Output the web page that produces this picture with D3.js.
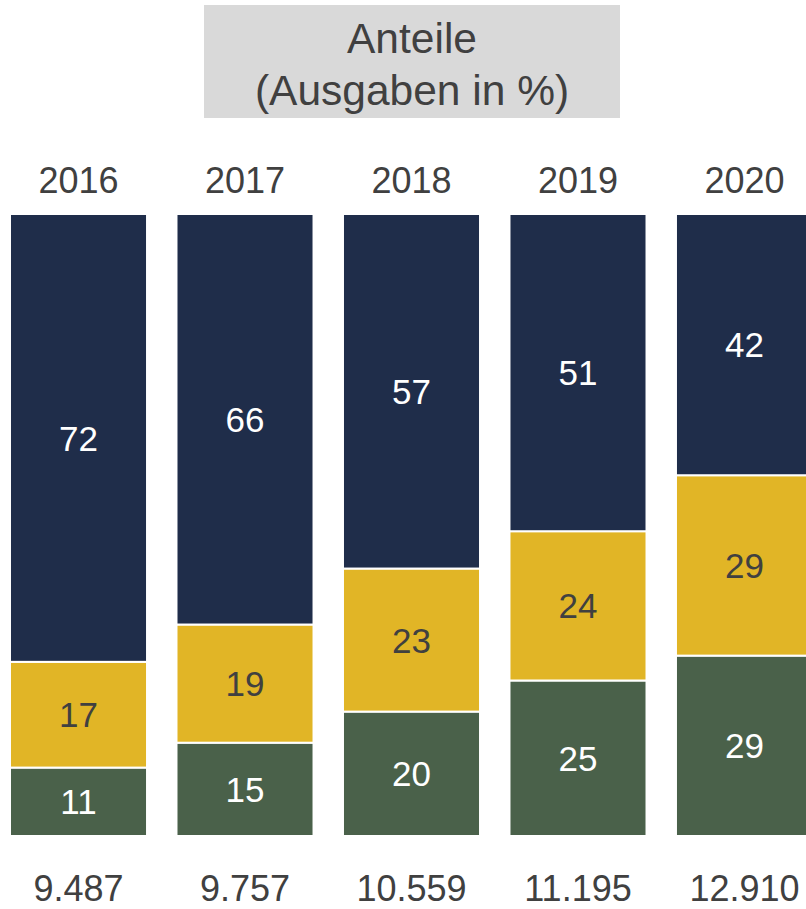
<!DOCTYPE html>
<html>
<head>
<meta charset="utf-8">
<script src="https://cdn.jsdelivr.net/npm/d3@7"></script>
<style>
  body { margin: 0; background: #fff; }
  text { font-family: "Liberation Sans", Arial, sans-serif; }
</style>
</head>
<body>
<div id="chart"></div>
<script>
// data
var years = ["2016", "2017", "2018", "2019", "2020"];
var gruen = [11, 15, 20, 25, 29];
var gelb = [17, 19, 23, 24, 29];
var blau = [72, 66, 57, 51, 42];
var totals = ["9.487", "9.757", "10.559", "11.195", "12.910"];
var titleLines = ["Anteile", "(Ausgaben in %)"];

var colors = {gruen: "#4a614a", gelb: "#e1b526", blau: "#1f2d4a"};
var labelColors = {gruen: "#ffffff", gelb: "#404040", blau: "#ffffff"};

var width = 806, height = 909;

var svg = d3.select("#chart").append("svg")
    .attr("width", width)
    .attr("height", height);

// title box
svg.append("rect")
    .attr("x", 204).attr("y", 5)
    .attr("width", 416).attr("height", 113)
    .attr("fill", "#d9d9d9");

svg.selectAll("text.title")
    .data(titleLines)
  .enter().append("text")
    .attr("class", "title")
    .attr("x", 412)
    .attr("y", function(d, i) { return 53 + i * 52; })
    .attr("text-anchor", "middle")
    .attr("font-size", 42.5)
    .attr("fill", "#404040")
    .text(function(d) { return d; });

var x = d3.scaleBand()
    .domain(years)
    .range([10, 813])
    .paddingInner(0.177)
    .paddingOuter(0);

var y = d3.scaleLinear()
    .domain([0, 100])
    .range([836, 214]);

// stacked rows
var rows = years.map(function(yr, i) {
  return {year: yr, gruen: gruen[i], gelb: gelb[i], blau: blau[i]};
});
var keys = ["gruen", "gelb", "blau"];
var stack = d3.stack().keys(keys)(rows);

var layer = svg.selectAll("g.layer")
    .data(stack)
  .enter().append("g")
    .attr("class", "layer");

layer.selectAll("rect")
    .data(function(s) { return s.map(function(d) { return {key: s.key, d: d}; }); })
  .enter().append("rect")
    .attr("x", function(o) { return x(o.d.data.year); })
    .attr("width", x.bandwidth())
    .attr("y", function(o) { return y(o.d[1]); })
    .attr("height", function(o) { return y(o.d[0]) - y(o.d[1]); })
    .attr("fill", function(o) { return colors[o.key]; })
    .attr("stroke", "#ffffff")
    .attr("stroke-width", 2);

layer.selectAll("text")
    .data(function(s) { return s.map(function(d) { return {key: s.key, d: d}; }); })
  .enter().append("text")
    .attr("x", function(o) { return x(o.d.data.year) + x.bandwidth() / 2; })
    .attr("y", function(o) { return (y(o.d[0]) + y(o.d[1])) / 2; })
    .attr("dy", "0.36em")
    .attr("text-anchor", "middle")
    .attr("font-size", 35)
    .attr("fill", function(o) { return labelColors[o.key]; })
    .text(function(o) { return o.d.data[o.key]; });

// year labels
svg.selectAll("text.year")
    .data(years)
  .enter().append("text")
    .attr("class", "year")
    .attr("x", function(d) { return x(d) + x.bandwidth() / 2; })
    .attr("y", 193)
    .attr("text-anchor", "middle")
    .attr("font-size", 36)
    .attr("fill", "#404040")
    .text(function(d) { return d; });

// totals
svg.selectAll("text.total")
    .data(totals)
  .enter().append("text")
    .attr("class", "total")
    .attr("x", function(d, i) { return x(years[i]) + x.bandwidth() / 2; })
    .attr("y", 901)
    .attr("text-anchor", "middle")
    .attr("font-size", 36)
    .attr("fill", "#404040")
    .text(function(d) { return d; });
</script>
</body>
</html>
